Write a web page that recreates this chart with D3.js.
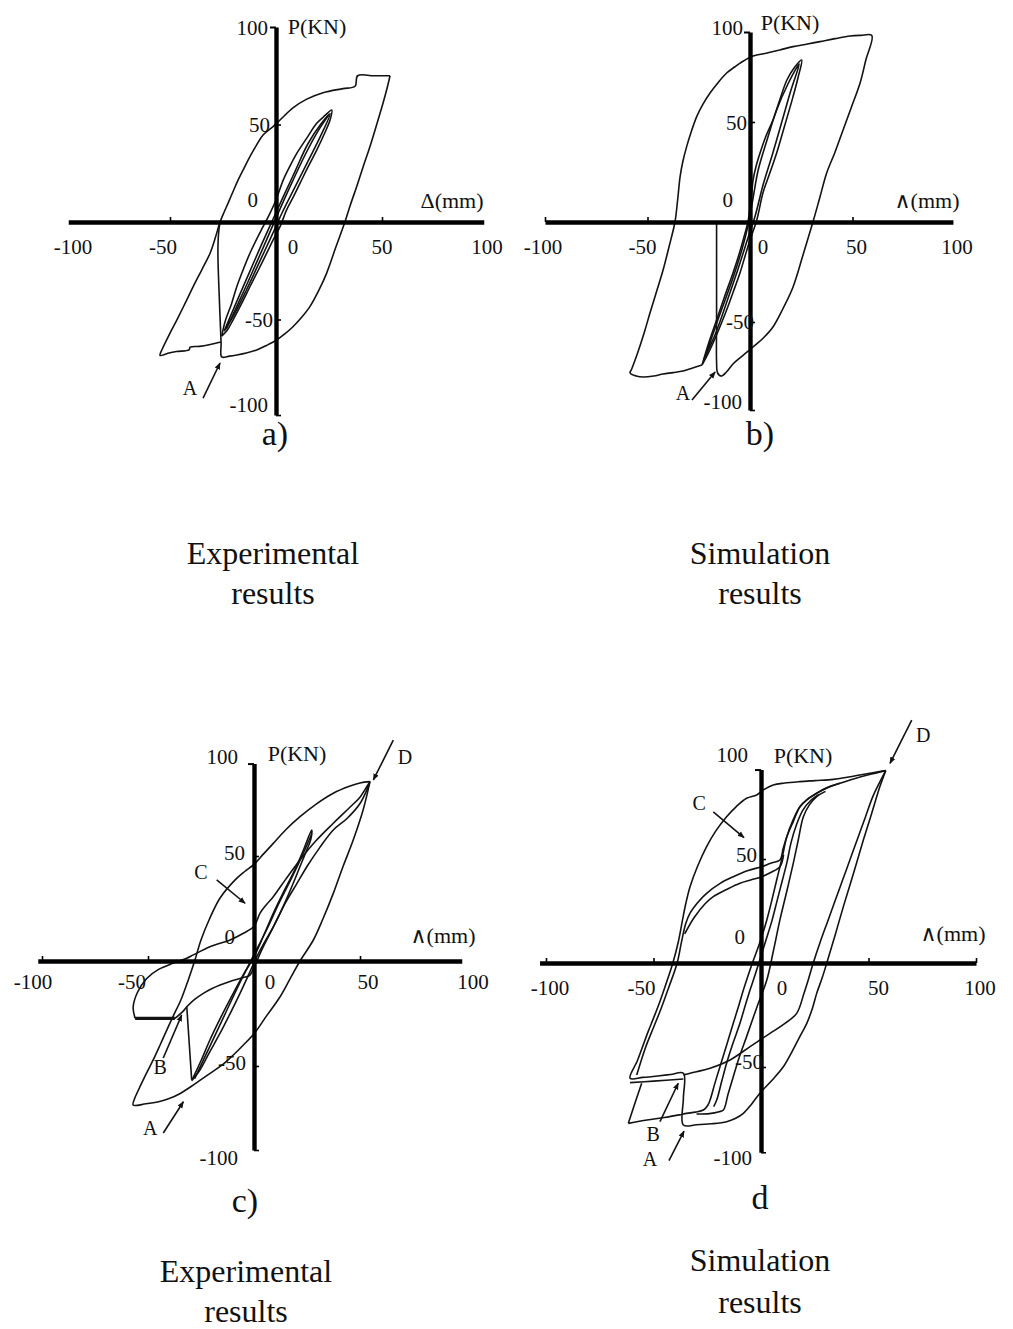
<!DOCTYPE html>
<html>
<head>
<meta charset="utf-8">
<script src="https://cdn.jsdelivr.net/npm/d3@7"></script>
<style>
  html, body { margin: 0; padding: 0; background: #fff; }
  svg { display: block; }
  text { font-family: "Liberation Serif", "Times New Roman", "DejaVu Serif", serif; fill: #111; }
</style>
</head>
<body>
<svg id="fig" width="1013" height="1329"></svg>
<script>
// ---- shared tick values (displacement in mm, load in kN) ----
const xTickValues = [-100, -50, 0, 50, 100];
const yTickValues = [100, 50, 0, -50, -100];
const xTickMarks = [-100, -50, 50, 100];

// ---- (a) experimental: load P (kN) vs displacement (mm) ----
const aOuterRight = [[53.8,75],[52.6,69.5],[50.5,61],[47.5,50],[44.3,38.6],[41,28],[38,18],[35,8.5],[32.5,0],[28.2,-13],[23.9,-26.2],[20,-35.5],[16,-43.4],[12,-49],[8,-53.7],[4,-57.5],[0.3,-60.5],[-4.5,-63.3],[-9.1,-65.6],[-14,-67.2],[-18.5,-68.2],[-22,-68.8],[-25.6,-69.2],[-25.9,-62],[-26.7,-40],[-27.4,-16],[-27.1,-6],[-26.4,0]];
const aOuterLeft = [[-26,-61.5],[-31,-62.8],[-36,-63.8],[-40.5,-64.2],[-41,-65.6],[-47,-66.4],[-51,-67.3],[-54.7,-68.4],[-53.8,-65.5],[-50,-57],[-46.8,-50.3],[-43,-42],[-39,-33],[-35,-24.5],[-31.1,-16],[-28.6,-8],[-26.4,0],[-24.5,5],[-22.6,9.7],[-20.2,15.8],[-17.9,21.5],[-15,27.8],[-12.3,33.5],[-9.2,39.4],[-6.1,44.6],[-1.4,48.9],[1.9,52.3],[8,58.5],[14.5,63],[22.2,66.3],[31.6,68.4],[37.3,69.6],[38.5,75],[46,75],[53.8,75]];
const aInnerLoop1 = [[-25.6,-58.5],[-24,-51],[-21,-42],[-18.5,-33.2],[-15.5,-24.5],[-12.3,-16],[-9,-8.5],[-6.1,-2.4],[-2.8,4.6],[0,11.3],[3.4,21.5],[6.5,28.5],[9.8,35.2],[14.5,43],[19.2,50.6],[23,54.5],[26.3,57.4],[25.5,52.3],[22.5,44.5],[19.2,36.9],[15,28],[11.3,19.8],[8,12.5],[5,6.2],[1.9,-2.4],[-1.3,-9],[-4.4,-16],[-8.5,-25],[-12.3,-33.2],[-16.3,-42],[-20.3,-50.3],[-23,-55.5],[-25.6,-58.5]];
const aInnerLoop2 = [[-24.5,-56],[-19,-42],[-13,-27],[-7,-12],[-2,0],[3,12],[9,26],[15,40],[21,50],[25.5,55.5],[21,44],[15,31],[9,18],[3,5],[-2,-7],[-8,-21],[-14,-35],[-20,-48],[-24.5,-56]];
const aInnerLine3 = [[-23.5,-55],[-15,-35],[-6,-13],[0,2],[7,19],[14,35],[20,47],[25,55]];

// ---- (b) simulation ----
const bOuterLoop = [[-23.4,-71.5],[-28,-73],[-32.7,-74.5],[-37.5,-75.3],[-42.4,-76],[-47,-77],[-52,-77.5],[-55.5,-77],[-58.5,-75.5],[-57.7,-73.5],[-55,-66],[-51.5,-55],[-48.8,-45.5],[-45.5,-34.5],[-42.4,-24],[-39.4,-12],[-36.6,0],[-35.3,11],[-34.1,22.7],[-32.7,30.5],[-30.9,37.7],[-28.7,45],[-26,52.7],[-23,58.8],[-19.5,64.5],[-15.5,69.8],[-11.4,74.5],[-7.5,77.5],[-4,80],[1.5,83],[8.3,84.5],[14.5,86],[21,87.7],[28,89],[34.1,90.2],[41.5,91.7],[48.8,93],[54,93.3],[59.4,93.3],[56.5,81],[53.7,69.5],[49.5,57.5],[45.4,46],[41.5,35],[37.4,24.5],[34,12],[30.7,0],[26,-16],[21,-32.5],[16,-43.5],[11.2,-52.5],[6.5,-58],[1.5,-62.5],[-3.5,-66.8],[-8.3,-71],[-11.5,-75],[-14,-77],[-15.8,-75.5],[-16.3,-70],[-16.3,-50],[-16.3,-25],[-16.3,0]];
const bInnerLoop1 = [[-23.4,-71.5],[-20,-60],[-16.3,-49],[-12.3,-37],[-8.3,-25.5],[-5,-15],[-2.4,-5.5],[-0.8,1],[0,7.5],[0.8,14],[1.5,21],[3,28],[4.9,34.5],[7.8,43],[11.2,51],[14.5,61],[18,71],[21.5,77],[25.2,81],[23.5,72.5],[21,62.7],[17,48.5],[13,34.5],[9.5,24],[6.3,14.5],[3.3,1],[0,-9],[-2.4,-17],[-4.9,-25.5],[-8.2,-35],[-11.4,-44],[-14.7,-52.5],[-18,-60.5],[-21,-67],[-23.4,-71.5]];
const bInnerLoop2 = [[-22.5,-69],[-15,-47],[-9,-30],[-4,-14],[-1,-2],[1.5,12],[4,26],[8,40],[13,56],[18.5,69],[24,79],[20,66],[15.5,50],[11,34],[6.5,19],[2.5,3],[-1,-8],[-6,-24],[-11,-39],[-16.5,-55],[-22.5,-69]];

// ---- (c) experimental ----
const cOuterLoop = [[54.7,85.4],[51.5,72],[46.8,57.6],[42,45],[37.4,32.2],[32.5,20],[28,10],[21.7,0],[17,-8.5],[12,-17.5],[6,-26],[0.5,-34],[-5,-40],[-10,-45],[-15,-49.5],[-20,-53],[-25,-56.5],[-30,-60],[-35,-63.2],[-40,-65.5],[-45,-67],[-51,-68],[-57,-68.6],[-56.3,-65.5],[-55,-62.5],[-51,-54],[-47.5,-47],[-44.3,-40],[-41.2,-33],[-38,-26],[-34.5,-18.6],[-31,-9],[-28,0],[-25,10],[-21,20],[-16,30],[-9,38.5],[-4.5,42.5],[0,46],[4.5,51],[9.1,56],[15,62.5],[21.7,68.7],[29,74.5],[37.4,79.9],[45,83.2],[50,84.8],[54.7,85.4]];
const cPinchLoop = [[-56.1,-27.3],[-57,-22],[-55,-15],[-50.6,-8.3],[-45,-4],[-38,-1],[-31.7,1.3],[-28.6,2.9],[-20.8,6.8],[-11.3,10],[-5,13.2],[0,16.5],[2.8,22.7],[6,27],[9.1,30.6],[15,39],[21.7,48.1],[29,57],[37.4,65.6],[45,73],[50,78],[54.7,85.4],[50,75],[44,68],[37.4,62.4],[31,54],[25,45],[20,36.5],[15,28],[10.5,19],[7,12],[4,6],[2,1.5],[-0.5,-4],[-1.9,-6.7],[-6.6,-8.3],[-11,-9.6],[-16,-11.4],[-20,-13.2],[-23.9,-15.4],[-28,-18.3],[-31.7,-21.8],[-33.5,-24],[-37.3,-27.3]];
const cLedge = [[-56.1,-27.3],[-37.3,-27.3]];
const cDrop = [[-31.7,-21.8],[-30.5,-40],[-29.4,-56.5]];
const cInnerLoop1 = [[-29.4,-57],[-25,-47.5],[-20.8,-37.6],[-15.5,-26.5],[-9.8,-15.4],[-5,-6.5],[0,2],[4.5,12],[9.1,22.7],[13.5,32],[18.5,41.8],[23,52],[27.2,62.4],[26.8,58],[24.9,52.9],[21.5,44.5],[18.5,37],[14,26.5],[9.1,16.3],[5,9],[1.3,2],[-2.5,-6.5],[-6.6,-15.4],[-11.5,-25.5],[-16,-34.4],[-21,-43.5],[-25.5,-51.9],[-29.4,-57]];
const cInnerLine2 = [[-28,-56],[-21,-41],[-14,-26],[-7,-11],[0,3],[6,15],[12,28],[18,40],[24,53],[27,60]];

// ---- (d) simulation ----
const dOuterLoop = [[58,92.5],[52,91.5],[46,90.4],[40,89.3],[33.6,88.3],[25,87.7],[18.1,87.2],[11,86.5],[5.7,85.6],[1.5,83.5],[-2,80.8],[-6.7,79.2],[-11.5,75.2],[-16,70.3],[-21,63.5],[-25.3,55.9],[-29.5,46.5],[-33,36.7],[-35,28.5],[-36.5,20.7],[-38.5,10],[-41,0],[-44,-9.5],[-47,-18.5],[-50,-26.5],[-52.5,-33],[-55,-40],[-57.5,-47],[-60.9,-55.4],[-55,-55],[-48,-54.3],[-42,-53.6],[-36.1,-53],[-36.1,-65],[-36.1,-77.9],[-30,-77.8],[-23,-77.3],[-16,-76.3],[-12,-74.8],[-8.2,-72.3],[-4.5,-68],[-0.5,-62.6],[5,-56.5],[10.4,-49.9],[14.5,-42.5],[18,-35.5],[21.3,-29],[24,-21.5],[25.9,-14.6],[28.5,-7],[30.6,0],[34.5,13.5],[38.3,27.1],[43,43],[47.6,59.1],[51.5,72],[55.3,84.8],[58,92.5]];
const dLedge = [[-60.9,-57.5],[-50,-56.8],[-36.1,-55.8]];
const dReturnCurve = [[-36.1,-53.8],[-30,-52.3],[-23.7,-50.6],[-14.4,-46.6],[-5.1,-40.2],[4.2,-33.8],[10.5,-29.5],[16.6,-24.2],[20,-14.5],[22.3,-7],[24.3,0],[27.5,10],[31,20],[34.5,30],[38,40],[41.5,50],[45,60],[48.5,70],[52,80],[55,86.5],[58,92.5]];
const dPinchCurve = [[58,92.5],[50,90.5],[43,88.5],[36.7,86.4],[30,84],[25.9,81.6],[21.5,78.5],[18.1,75.1],[15,68],[12,60.7],[10.3,55],[8.8,49.5],[4.5,48],[0.3,46.3],[-6,44.5],[-12.9,41.5],[-19,38.3],[-25.3,33.5],[-29.5,29],[-33,24],[-35,19],[-37,10],[-39,0],[-43,-12],[-46.5,-22],[-50,-31],[-53.5,-40],[-57.8,-53.8]];
const dPinchCurve2 = [[-35.5,14],[-31,22],[-26,28.5],[-22.2,31.9],[-16,35.3],[-9.8,38.3],[-4.5,40],[0.3,41.5],[4.5,43.5],[8.8,46.3],[10.5,52]];
const dInnerS1 = [[-61.7,-77.1],[-53,-75.5],[-45,-74.3],[-38,-73],[-34.6,-72.3],[-30.5,-71.7],[-26.8,-70.7],[-24.8,-68.5],[-23.7,-65.9],[-21.5,-58],[-19.1,-49.9],[-16,-39.5],[-12.9,-29],[-10.5,-21],[-8.2,-13],[-6,-6],[-4,0],[-0.5,10],[2.7,20.7],[5,30],[7.3,39.9],[9.8,50.5],[12,60.7],[14.8,68.5],[18.1,75.1],[21.5,78.7],[25.9,81.6],[31,84.3],[36.7,86.4]];
const dInnerS2 = [[-22,-69],[-20.6,-65.9],[-18.3,-57],[-16,-48.2],[-13,-38.5],[-9.8,-29],[-7.5,-21],[-5.1,-13],[-3,-6.5],[-1,0],[2,10],[5,20],[7.5,30],[10,40],[12.2,49],[14,58],[16.5,66.5],[19.5,73.5],[23,78],[27,81]];
const dInnerS3 = [[-30,-72.6],[-24,-72.4],[-19.5,-71.5],[-17.5,-70.7],[-15.3,-63],[-13,-55],[-10,-45],[-6.7,-35.4],[-2,-21.5],[2.7,-8.2],[5.8,6],[8.8,20.7],[12,34.5],[15,47.9],[17.3,59],[19.7,70.3],[22.5,76],[25.9,80],[30,82.5]];
const dLeftSlant = [[-61.7,-77.1],[-58.5,-67],[-55.5,-57.8]];

// ---- lettered call-outs (label position, arrow tail, arrow head) ----
const aNotes = [{label: "A", at: [-40.6,-85.1], from: [-34.4,-90.3], to: [-26.4,-72.3]}];
const bNotes = [{label: "A", at: [-32.7,-85.5], from: [-28.3,-89], to: [-17,-75]}];
const cNotes = [
  {label: "C", at: [-25,42.4], from: [-17.6,38.6], to: [-4.2,27.5]},
  {label: "D", at: [71.2,97.1], from: [65.7,105.2], to: [56.3,86.2]},
  {label: "B", at: [-44.3,-50.5], from: [-42.8,-46.2], to: [-34.1,-25.7]},
  {label: "A", at: [-49,-79.5], from: [-42.8,-81.9], to: [-33.3,-67]}
];
const dNotes = [
  {label: "C", at: [-28.8,76.9], from: [-22.2,72.7], to: [-7.9,60.3]},
  {label: "D", at: [75.5,109.6], from: [70.1,116.8], to: [60,96]},
  {label: "B", at: [-50.1,-82.2], from: [-47,-76.3], to: [-38.5,-57.8]},
  {label: "A", at: [-51.6,-94.4], from: [-42.8,-95], to: [-35.8,-80.8]}
];

// ---- panel layout ----
const panels = [
  { curves: [aOuterRight, aOuterLeft, aInnerLoop1, aInnerLoop2, aInnerLine3], thick: [], notes: aNotes,
    origin: [276,222], unit: [2.12,1.95], xExtent: [-98,98], yExtent: [-99,100],
    xTitle: "\u0394(mm)", xTitleAt: [176,-22], yTitleAt: [41,-196],
    xLabelDx: [9,-7,17,0,-1], xLabelDy: 25, yLabelGap: [8,6,18,3,8], yLabelDy: [1,0,-22,0,-12],
    caption: "a)", captionAt: [275,433] },
  { curves: [bOuterLoop, bInnerLoop1, bInnerLoop2], thick: [], notes: bNotes,
    origin: [750,222], unit: [2.05,2.0], xExtent: [-100,99], yExtent: [-94,95],
    xTitle: "\u2227(mm)", xTitleAt: [177,-22], yTitleAt: [40,-200],
    xLabelDx: [-2,-5,13,4,2], xLabelDy: 25, yLabelGap: [7,3,17,-4,8], yLabelDy: [6,1,-22,0,-20],
    caption: "b)", captionAt: [760,433] },
  { curves: [cOuterLoop, cPinchLoop, cDrop, cInnerLoop1, cInnerLine2], thick: [cLedge], notes: cNotes,
    origin: [254,961], unit: [2.12,2.1], xExtent: [-102,98], yExtent: [-90,94],
    xTitle: "\u2227(mm)", xTitleAt: [189,-26], yTitleAt: [43,-208],
    xLabelDx: [-9,-16,16,8,7], xLabelDy: 21, yLabelGap: [16,9,19,8,16], yLabelDy: [6,-3,-24,-3,-13],
    caption: "c)", captionAt: [245,1200] },
  { curves: [dOuterLoop, dLedge, dReturnCurve, dPinchCurve, dPinchCurve2, dInnerS1, dInnerS2, dInnerS3, dLeftSlant], thick: [], notes: dNotes,
    origin: [761,963], unit: [2.15,2.08], xExtent: [-103,100], yExtent: [-91,93],
    xTitle: "\u2227(mm)", xTitleAt: [192,-30], yTitleAt: [42,-208],
    xLabelDx: [4,-12,21,10,4], xLabelDy: 25, yLabelGap: [13,4,16,-2,9], yLabelDy: [0,-4,-26,-5,-13],
    caption: "d", captionAt: [760,1197] }
];

const descriptions = [
  { lines: ["Experimental", "results"], at: [273,553], gap: 40 },
  { lines: ["Simulation", "results"], at: [760,553], gap: 40 },
  { lines: ["Experimental", "results"], at: [246,1271], gap: 40 },
  { lines: ["Simulation", "results"], at: [760,1260], gap: 42 }
];

const ink = "#131313";
const svg = d3.select("#fig");

svg.append("defs").append("marker")
  .attr("id", "head").attr("viewBox", "0 0 10 10")
  .attr("refX", 9).attr("refY", 5)
  .attr("markerWidth", 7).attr("markerHeight", 7)
  .attr("markerUnits", "userSpaceOnUse")
  .attr("orient", "auto")
  .append("path").attr("d", "M0,1 L10,5 L0,9 Z").attr("fill", ink);

function drawPanel(p) {
  const x = d3.scaleLinear().domain([-100, 100])
    .range([p.origin[0] - 100 * p.unit[0], p.origin[0] + 100 * p.unit[0]]);
  const y = d3.scaleLinear().domain([-100, 100])
    .range([p.origin[1] + 100 * p.unit[1], p.origin[1] - 100 * p.unit[1]]);
  const g = svg.append("g");

  const line = d3.line()
    .x(d => x(d[0])).y(d => y(d[1]))
    .curve(d3.curveCatmullRom.alpha(0.5));

  // hysteresis curves
  g.selectAll("path.curve").data(p.curves).join("path")
    .attr("class", "curve")
    .attr("d", line)
    .attr("fill", "none").attr("stroke", ink)
    .attr("stroke-width", 1.6).attr("stroke-linejoin", "round");

  g.selectAll("path.thick").data(p.thick).join("path")
    .attr("class", "thick")
    .attr("d", d3.line().x(d => x(d[0])).y(d => y(d[1])))
    .attr("fill", "none").attr("stroke", ink).attr("stroke-width", 3.4);

  // horizontal axis through the origin
  const xAxisScale = x.copy().domain(p.xExtent).range(p.xExtent.map(x));
  g.append("g")
    .attr("transform", `translate(0,${y(0)})`)
    .call(d3.axisBottom(xAxisScale).tickValues(xTickMarks.filter(v => v >= p.xExtent[0] && v <= p.xExtent[1]))
      .tickSizeInner(-5).tickSizeOuter(0).tickFormat(""))
    .call(s => s.select(".domain").attr("stroke", "#000").attr("stroke-width", 4.4))
    .call(s => s.selectAll(".tick line").attr("stroke", "#000").attr("stroke-width", 1.6));

  // vertical axis through the origin
  const yAxisScale = y.copy().domain(p.yExtent).range(p.yExtent.map(y));
  g.append("g")
    .attr("transform", `translate(${x(0)},0)`)
    .call(d3.axisRight(yAxisScale).tickValues([50, -50].concat(p.yExtent[0] <= -90 ? [p.yExtent[0]] : []))
      .tickSizeInner(5).tickSizeOuter(0).tickFormat(""))
    .call(s => s.select(".domain").attr("stroke", "#000").attr("stroke-width", 4.4))
    .call(s => s.selectAll(".tick line").attr("stroke", "#000").attr("stroke-width", 1.6));
  g.append("g")
    .attr("transform", `translate(${x(0)},0)`)
    .call(d3.axisLeft(yAxisScale).tickValues([p.yExtent[1]]).tickSizeInner(6).tickSizeOuter(0).tickFormat(""))
    .call(s => s.select(".domain").remove())
    .call(s => s.selectAll(".tick line").attr("stroke", "#000").attr("stroke-width", 2));

  // tick labels
  g.selectAll("text.xl").data(xTickValues).join("text")
    .attr("class", "xl")
    .attr("x", (v, i) => x(v) + p.xLabelDx[i])
    .attr("y", y(0) + p.xLabelDy)
    .attr("text-anchor", "middle").attr("dominant-baseline", "central")
    .attr("font-size", 21).text(v => String(v));

  g.selectAll("text.yl").data(yTickValues).join("text")
    .attr("class", "yl")
    .attr("x", (v, i) => x(0) - p.yLabelGap[i])
    .attr("y", (v, i) => y(v) + p.yLabelDy[i])
    .attr("text-anchor", "end").attr("dominant-baseline", "central")
    .attr("font-size", 21).text(v => String(v));

  // axis titles
  g.append("text")
    .attr("x", p.origin[0] + p.yTitleAt[0]).attr("y", p.origin[1] + p.yTitleAt[1])
    .attr("text-anchor", "middle").attr("dominant-baseline", "central")
    .attr("font-size", 22).text("P(KN)");
  g.append("text")
    .attr("x", p.origin[0] + p.xTitleAt[0]).attr("y", p.origin[1] + p.xTitleAt[1])
    .attr("text-anchor", "middle").attr("dominant-baseline", "central")
    .attr("font-size", 22).text(p.xTitle);

  // lettered call-outs with arrows
  g.selectAll("line.note").data(p.notes).join("line")
    .attr("class", "note")
    .attr("x1", d => x(d.from[0])).attr("y1", d => y(d.from[1]))
    .attr("x2", d => x(d.to[0])).attr("y2", d => y(d.to[1]))
    .attr("stroke", ink).attr("stroke-width", 1.6)
    .attr("marker-end", "url(#head)");
  g.selectAll("text.note").data(p.notes).join("text")
    .attr("class", "note")
    .attr("x", d => x(d.at[0])).attr("y", d => y(d.at[1]))
    .attr("text-anchor", "middle").attr("dominant-baseline", "central")
    .attr("font-size", 20).text(d => d.label);

  // panel caption
  svg.append("text")
    .attr("x", p.captionAt[0]).attr("y", p.captionAt[1])
    .attr("text-anchor", "middle").attr("dominant-baseline", "central")
    .attr("font-size", 34).text(p.caption);
}

panels.forEach(drawPanel);

descriptions.forEach(d => {
  d.lines.forEach((t, i) => {
    svg.append("text")
      .attr("x", d.at[0]).attr("y", d.at[1] + i * d.gap)
      .attr("text-anchor", "middle").attr("dominant-baseline", "central")
      .attr("font-size", 32).text(t);
  });
});
</script>
</body>
</html>
